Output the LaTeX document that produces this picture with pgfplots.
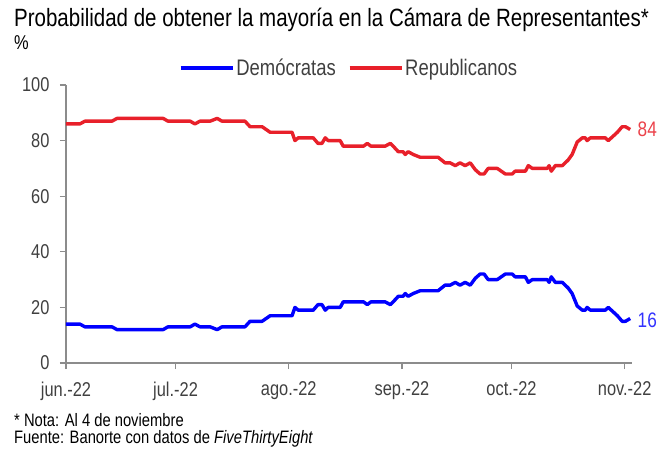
\documentclass[border=0pt]{standalone}
\usepackage{fontspec}
\setmainfont{Liberation Sans}[FakeStretch=0.82]
\usepackage{pgfplots}
\pgfplotsset{compat=1.18}
\definecolor{Dem}{HTML}{0000FF}
\definecolor{Rep}{HTML}{E8202A}
\definecolor{Txt}{HTML}{404040}
\definecolor{Ax}{HTML}{8C8C8C}

% x = days since 1 June 2022
\pgfplotstableread{
x y
0 86
3.8 86
5.2 87
12.6 87
14 88
26.6 88
27.9 87
34 87
35.3 86
36.7 87
39.5 87
41.4 88
42.7 87
49 87
50.4 85
53.7 85
55.9 83
61.9 83
62.7 80
63.6 81
67.7 81
69 79
70.1 79
71 81
71.8 80
75.1 80
75.9 78
81.5 78
82.5 79
83.5 78
87.4 78
88.8 79
89.6 78
91 76
92.3 76
92.9 75
93.7 76
95.1 75
97 74
101.9 74
103.8 72
105.2 72
106.6 71
107.9 72
109.3 71
110.7 72
112.1 69.5
113.4 68
114.5 68
115.6 70
118.1 70
120.3 68
122.2 68
123 69
125.8 69
126.6 71
127.7 70
131.8 70
132.3 71
132.9 69
134 71
135.9 71
137.5 73
138.6 75
140 79.5
141.4 81
142.2 81
142.7 80
143.6 81
147.7 81
148.5 80
151 83
152.3 85
153.2 85
154.5 84
}\rep

\pgfplotstableread{
x y
0 14
3.8 14
5.2 13
12.6 13
14 12
26.6 12
27.9 13
34 13
35.3 14
36.7 13
39.5 13
41.4 12
42.7 13
49 13
50.4 15
53.7 15
55.9 17
61.9 17
62.7 20
63.6 19
67.7 19
69 21
70.1 21
71 19
71.8 20
75.1 20
75.9 22
81.5 22
82.5 21
83.5 22
87.4 22
88.8 21
89.6 22
91 24
92.3 24
92.9 25
93.7 24
95.1 25
97 26
101.9 26
103.8 28
105.2 28
106.6 29
107.9 28
109.3 29
110.7 28
112.1 30.5
113.4 32
114.5 32
115.6 30
118.1 30
120.3 32
122.2 32
123 31
125.8 31
126.6 29
127.7 30
131.8 30
132.3 29
132.9 31
134 29
135.9 29
137.5 27
138.6 25
140 20.5
141.4 19
142.2 19
142.7 20
143.6 19
147.7 19
148.5 20
151 17
152.3 15
153.2 15
154.5 16
}\dem

\begin{document}
\begin{tikzpicture}[font=\color{Txt}]
\useasboundingbox (-66pt,-85pt) rectangle (605pt,363pt);
\begin{axis}[
  at={(0pt,0pt)}, anchor=south west,
  scale only axis,
  width=566pt, height=278pt,
  xmin=0, xmax=155, ymin=0, ymax=100,
  axis lines*=left,
  axis line style={draw=Ax, line width=1.3pt},
  every tick/.style={draw=Ax, line width=1.3pt},
  tick align=outside,
  major tick length=6pt,
  xtick={0,30,61,92,122,153},
  xticklabels={jun.-22,jul.-22,ago.-22,sep.-22,oct.-22,nov.-22},
  ytick={0,20,40,60,80,100},
  /pgf/number format/assume math mode=true,
  tick label style={font=\fontsize{20}{22}\selectfont\color{Txt}},
  xticklabel style={yshift=-9pt},
  yticklabel style={xshift=-7pt},
  legend style={at={(0.5,1.061)}, anchor=center, draw=none, fill=none,
    legend columns=2, font=\fontsize{22.5}{24}\selectfont\color{Txt},
    /tikz/every even column/.append style={column sep=10pt}},
  legend image code/.code={\draw[#1] (0pt,0pt) -- (52pt,0pt);},
  clip=false,
]
\addplot[Dem, line width=3.4pt, line join=round] table {\dem};
\addlegendentry{Demócratas}
\addplot[Rep, line width=3.4pt, line join=round] table {\rep};
\addlegendentry{Republicanos}
\node[anchor=west, text=Rep!85, font=\fontsize{21}{23}\selectfont] at (axis cs:154.5,84) {\hspace{4pt}84};
\node[anchor=west, text=Dem!80, font=\fontsize{21}{23}\selectfont] at (axis cs:154.5,15.5) {\hspace{4pt}16};
\end{axis}
\node[anchor=base west, font=\fontsize{25}{27}\selectfont, inner sep=0pt] at (-52pt,336pt) {Probabilidad de obtener la mayoría en la Cámara de Representantes*};
\node[anchor=base west, font=\fontsize{20}{22}\selectfont, inner sep=0pt] at (-52pt,314pt) {\%};
\node[anchor=base west, font=\fontsize{18}{19}\selectfont, inner sep=0pt] at (-52pt,-63pt) {* Nota: Al 4 de noviembre};
\node[anchor=base west, font=\fontsize{18}{19}\selectfont, inner sep=0pt] at (-52pt,-80pt) {Fuente: Banorte con datos de \textit{FiveThirtyEight}};
\end{tikzpicture}
\end{document}
